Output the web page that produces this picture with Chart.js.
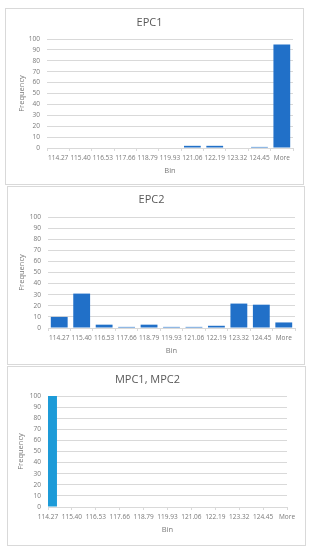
<!DOCTYPE html>
<html>
<head>
<meta charset="utf-8">
<script src="https://cdn.jsdelivr.net/npm/chart.js@4"></script>
<style>
  body { margin: 0; background: #fff; width: 312px; height: 550px; position: relative; overflow: hidden; }
  .panel { position: absolute; box-sizing: border-box; border: 1px solid #d9d9d9; background: #fff; }
  .panel canvas { display: block; }
</style>
</head>
<body>
<div class="panel" style="left:5px;top:8px;width:299px;height:177px"><canvas id="c1" width="297" height="175"></canvas></div>
<div class="panel" style="left:7px;top:186px;width:298px;height:179px"><canvas id="c2" width="296" height="177"></canvas></div>
<div class="panel" style="left:7px;top:366px;width:299px;height:180px"><canvas id="c3" width="297" height="178"></canvas></div>
<script>
// histogram bins (shared by all three charts)
const bins = ['114.27', '115.40', '116.53', '117.66', '118.79', '119.93', '121.06', '122.19', '123.32', '124.45', 'More'];
const epc1Freq = [0, 0, 0, 0, 0, 0, 2, 2, 0, 1, 95];
const epc2Freq = [10, 31, 3, 1, 3, 1, 1, 2, 22, 21, 5];
const mpcFreq = [100, 0, 0, 0, 0, 0, 0, 0, 0, 0, 0];
const yMax = 100;
const yStep = 10;

const FONT = "'Open Sans', 'Liberation Sans', sans-serif";
const GRID = '#d9d9d9';
const TXT = '#7a7a7a';

// g: plot area inside the canvas (left, right, top, bottom) plus title/axis title positions
function makeChart(id, title, values, color, g, onTicks) {
  const canvas = document.getElementById(id);
  const H = canvas.height;
  const titleSize = 11;
  const titleLH = titleSize * 1.2;
  const padTop = g.titleY - titleLH / 2;
  return new Chart(canvas, {
    type: 'bar',
    data: {
      labels: bins,
      datasets: [{
        label: title,
        data: values,
        backgroundColor: color,
        categoryPercentage: 1,
        barPercentage: 0.75,
        clip: 0,
      }],
    },
    options: {
      responsive: false,
      animation: false,
      layout: { padding: { left: 0, right: canvas.width - g.right, top: 0, bottom: 0 } },
      plugins: {
        legend: { display: false },
        tooltip: { enabled: false },
        title: {
          display: true,
          text: title,
          color: '#595959',
          font: { family: FONT, size: titleSize, weight: 'normal', lineHeight: 1.2 },
          padding: { top: padTop, bottom: g.top - padTop - titleLH },
        },
      },
      scales: {
        x: {
          offset: !onTicks,
          grid: { display: true, drawOnChartArea: false, drawTicks: true, tickLength: 3, color: GRID, offset: !onTicks },
          border: { display: true, color: GRID },
          ticks: { color: TXT, font: { family: FONT, size: 6.5 }, padding: 3.5, autoSkip: false, maxRotation: 0, minRotation: 0 },
          title: { display: true, text: 'Bin', color: TXT, font: { family: FONT, size: 7.5 }, padding: { top: 0, bottom: g.binOff } },
          afterFit: (s) => { s.height = H - g.bottom; },
        },
        y: {
          min: 0,
          max: yMax,
          grid: { color: GRID, drawTicks: false },
          border: { display: false },
          ticks: { stepSize: yStep, autoSkip: false, color: TXT, font: { family: FONT, size: 6.5 }, padding: 7 },
          title: { display: true, text: 'Frequency', color: TXT, font: { family: FONT, size: 7.5 }, padding: { top: g.freqOff, bottom: 0 } },
          afterFit: (s) => { s.width = g.left; },
        },
      },
    },
  });
}

makeChart('c1', 'EPC1', epc1Freq, '#2170c8', { left: 41, right: 287, top: 30, bottom: 139, titleY: 14, binOff: 8.5, freqOff: 11 }, false);
makeChart('c2', 'EPC2', epc2Freq, '#2170c8', { left: 40, right: 287, top: 30, bottom: 141, titleY: 13, binOff: 9, freqOff: 9 }, false);
makeChart('c3', 'MPC1, MPC2', mpcFreq, '#1d9bd8', { left: 40, right: 279, top: 29, bottom: 140, titleY: 13, binOff: 11, freqOff: 8 }, true);
</script>
</body>
</html>
